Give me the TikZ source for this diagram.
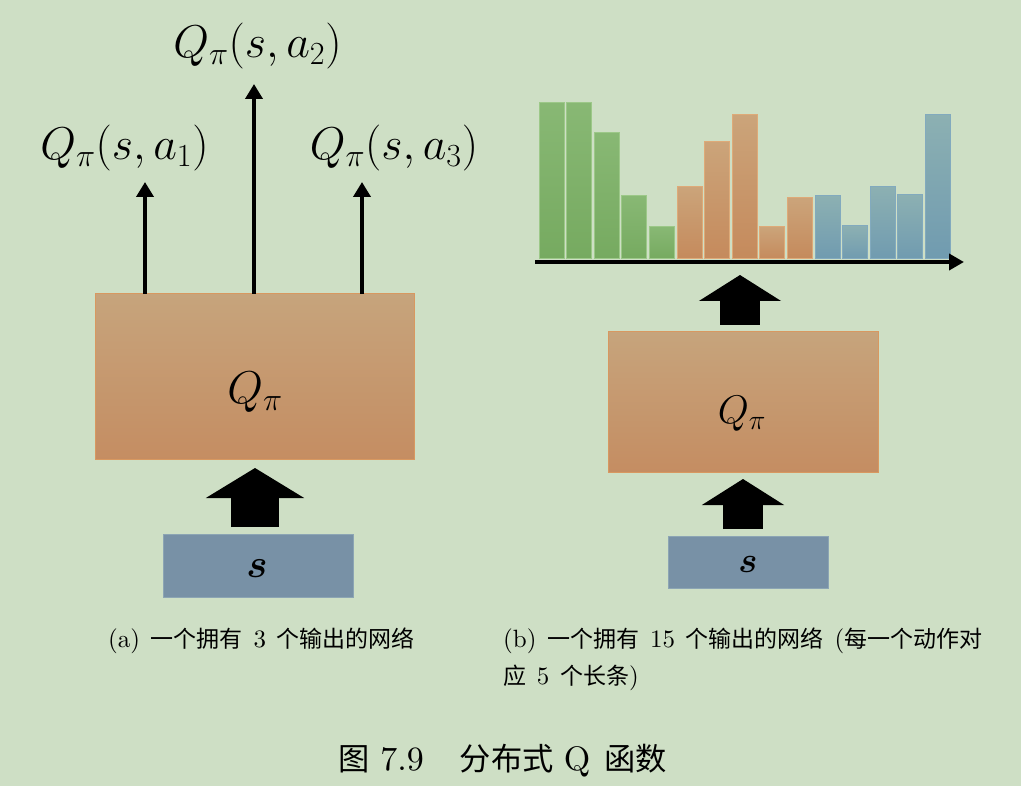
\RequirePackage{fix-cm}
\documentclass[tikz,border=0pt]{standalone}
\usepackage{amsmath}
\usepackage{fontspec}
\setmainfont{lmroman10-regular.otf}[BoldFont=lmroman10-bold.otf, ItalicFont=lmroman10-italic.otf]
\newfontfamily\cjk[Scale=0.92]{Noto Sans CJK SC}
\usetikzlibrary{arrows.meta}
\definecolor{bg}{RGB}{206,223,197}
\definecolor{qtop}{RGB}{198,164,124}
\definecolor{qbot}{RGB}{197,141,98}
\definecolor{qedge}{RGB}{216,152,96}
\definecolor{sfill}{RGB}{120,145,166}
\definecolor{sedge}{RGB}{140,165,180}
\definecolor{gtop}{RGB}{136,184,116}
\definecolor{gbot}{RGB}{118,170,96}
\definecolor{gedge}{RGB}{156,200,136}
\definecolor{otop}{RGB}{203,164,122}
\definecolor{obot}{RGB}{197,138,92}
\definecolor{oedge}{RGB}{222,170,120}
\definecolor{btop}{RGB}{140,176,178}
\definecolor{bbot}{RGB}{112,155,176}
\definecolor{bedge}{RGB}{130,170,190}
\newcommand\gp{\hspace{0.43em}}
\tikzset{
  qbox/.style={rectangle, top color=qtop, bottom color=qbot, draw=qedge, line width=1pt, inner sep=0pt, outer sep=0pt},
  sbox/.style={rectangle, fill=sfill, draw=sedge, line width=0.8pt, inner sep=0pt, outer sep=0pt},
  biglabel/.style={anchor=base, inner sep=0pt, font=\fontsize{46}{50}\selectfont},
  thinarrow/.style={line width=4pt, -{Triangle[length=15pt,width=17pt]}},
  fatarrowL/.style={line width=48pt, -{Triangle[length=30pt,width=97pt]}},
  fatarrowR/.style={line width=40pt, -{Triangle[length=26pt,width=81pt]}},
  bargreen/.style={top color=gtop, bottom color=gbot, draw=gedge, line width=1pt},
  barorange/.style={top color=otop, bottom color=obot, draw=oedge, line width=1pt},
  barblue/.style={top color=btop, bottom color=bbot, draw=bedge, line width=1pt},
  caption/.style={anchor=base west, inner sep=0pt, font=\fontsize{25}{30}\selectfont},
}
\begin{document}
\begin{tikzpicture}[x=1pt,y=-1pt]
\fill[bg] (0,0) rectangle (1021,786);
\useasboundingbox (0,0) rectangle (1021,786);

% ---------- left panel ----------
\node[qbox, minimum width=319pt, minimum height=166pt] (Q1) at (254.5,377) {};
\node[anchor=base, inner sep=0pt, font=\fontsize{46}{50}\selectfont] (Q1t) at (255,404) {$Q_\pi$};
\node[sbox, minimum width=190pt, minimum height=63pt] (S1) at (258,565.5) {};
\node[anchor=base, inner sep=0pt, font=\fontsize{40}{44}\selectfont] (S1t) at (257,577) {$\boldsymbol{s}$};
\coordinate (F1a) at (255,527);
\coordinate (F1b) at (255,468);
\draw[fatarrowL] (F1a) -- (F1b);

\node[biglabel] (L1) at (124.5,160) {$Q_\pi(s,a_1)$};
\node[biglabel] (L2) at (257.5,58) {$Q_\pi(s,a_2)$};
\node[biglabel] (L3) at (394,160) {$Q_\pi(s,a_3)$};
\coordinate (T1) at (145,182);
\coordinate (T2) at (254,84);
\coordinate (T3) at (362,182);
\draw[thinarrow] (Q1.north -| T1) -- (T1);
\draw[thinarrow] (Q1.north -| T2) -- (T2);
\draw[thinarrow] (Q1.north -| T3) -- (T3);

% ---------- right panel ----------
\foreach \i/\t/\s in {0/103/bargreen,1/103/bargreen,2/133/bargreen,3/196/bargreen,4/227/bargreen,
                      5/187/barorange,6/142/barorange,7/115/barorange,8/227/barorange,9/198/barorange,
                      10/196/barblue,11/226/barblue,12/187/barblue,13/195/barblue,14/115/barblue}{
  \shade[\s] ({539+27.6*\i},259) rectangle ({539+27.6*\i+25},\t);
}
\coordinate (AxL) at (535,262);
\coordinate (AxR) at (964,262);
\draw[line width=4pt, -{Triangle[length=15pt,width=16pt]}] (AxL) -- (AxR);

\node[qbox, minimum width=270pt, minimum height=140pt] (Q2) at (743,402) {};
\node[anchor=base, inner sep=0pt, font=\fontsize{40}{44}\selectfont] (Q2t) at (742,424) {$Q_\pi$};
\node[sbox, minimum width=160pt, minimum height=52pt] (S2) at (748,562) {};
\node[anchor=base, inner sep=0pt, font=\fontsize{36}{40}\selectfont] (S2t) at (748,572) {$\boldsymbol{s}$};
\coordinate (F2a) at (743,529);
\coordinate (F2b) at (743,479);
\draw[fatarrowR] (F2a) -- (F2b);
\coordinate (F3a) at (740,325);
\coordinate (F3b) at (740,275);
\draw[fatarrowR] (F3a) -- (F3b);

% ---------- captions ----------
\node[caption] (CapA) at (108,647) {(a)\gp{\cjk 一个拥有}\gp 3\gp{\cjk 个输出的网络}};
\node[caption] (CapB1) at (503,647) {(b)\gp{\cjk 一个拥有}\gp 15\gp{\cjk 个输出的网络}\gp({\cjk 每一个动作对}};
\node[caption] (CapB2) at (503,684) {{\cjk 应}\gp 5\gp{\cjk 个长条})};
\node[anchor=base west, inner sep=0pt, font=\fontsize{34}{40}\selectfont] (Title) at (338,770) {{\cjk 图}\hspace{11pt}7.9\hspace{36pt}{\cjk 分布式}\hspace{10pt}Q\hspace{14pt}{\cjk 函数}};
\end{tikzpicture}
\end{document}
